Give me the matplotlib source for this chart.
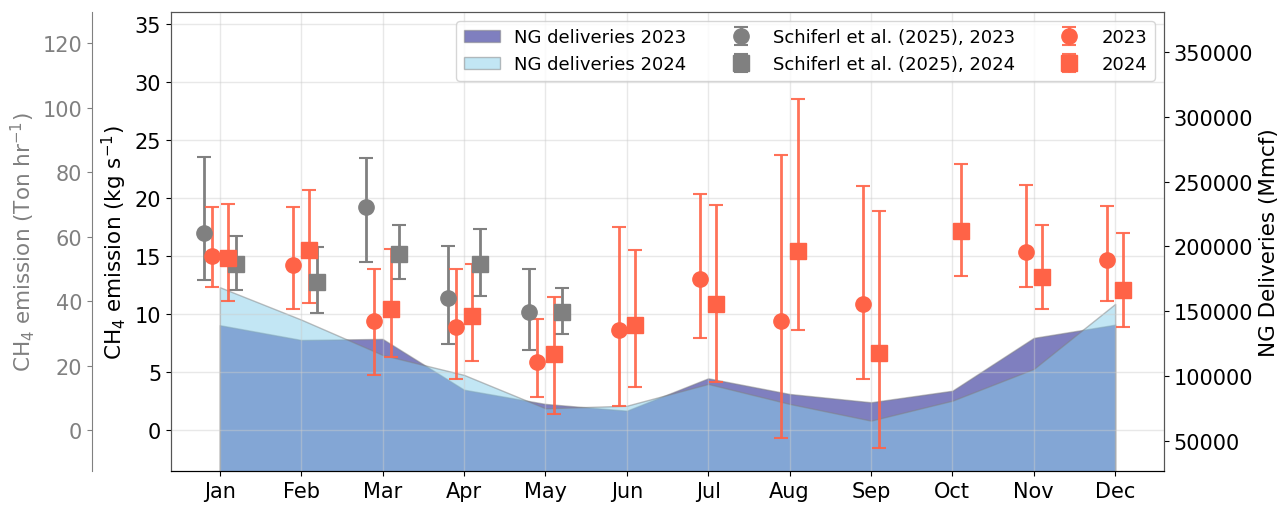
import numpy as np
import matplotlib
matplotlib.use("Agg")
from matplotlib import pyplot as plt

nan = np.nan

months = ['Jan', 'Feb', 'Mar', 'Apr', 'May', 'Jun', 'Jul', 'Aug', 'Sep', 'Oct', 'Nov', 'Dec']

# Schiferl et al. (2025) estimates, kg/s, with lower / upper bounds
sch_2023 = [17.0, nan, 19.2, 11.4, 10.2, nan, nan, nan, nan, nan, nan, nan]
sch_2023_lo = [12.9, nan, 14.5, 7.4, 6.95, nan, nan, nan, nan, nan, nan, nan]
sch_2023_hi = [23.5, nan, 23.4, 15.9, 13.9, nan, nan, nan, nan, nan, nan, nan]
sch_2024 = [14.3, 12.8, 15.2, 14.3, 10.2, nan, nan, nan, nan, nan, nan, nan]
sch_2024_lo = [12.1, 10.1, 13.0, 11.6, 8.3, nan, nan, nan, nan, nan, nan, nan]
sch_2024_hi = [16.7, 15.8, 17.7, 17.3, 12.25, nan, nan, nan, nan, nan, nan, nan]

# our monthly estimates, kg/s
em_2023 = [15.0, 14.2, 9.4, 8.9, 5.9, 8.65, 13.05, 9.4, 10.9, nan, 15.35, 14.7]
em_2023_lo = [12.3, 10.45, 4.8, 4.45, 2.85, 2.1, 7.95, -0.65, 4.4, nan, 12.3, 11.15]
em_2023_hi = [19.2, 19.2, 13.9, 13.9, 9.6, 17.5, 20.35, 23.7, 21.0, nan, 21.1, 19.3]
em_2024 = [14.85, 15.5, 10.4, 9.85, 6.55, 9.1, 10.9, 15.45, 6.65, 17.15, 13.2, 12.1]
em_2024_lo = [11.1, 11.0, 6.35, 6.0, 1.4, 3.75, 4.2, 8.65, -1.5, 13.25, 10.4, 8.9]
em_2024_hi = [19.5, 20.65, 15.6, 14.35, 11.5, 15.5, 19.4, 28.55, 18.9, 22.95, 17.7, 16.95]

# natural gas deliveries, Mmcf
ng_2023 = [139200, 127800, 128600, 89400, 78400, 73200, 98200, 86100, 79700, 88600, 129400, 139600]
ng_2024 = [168500, 143500, 116200, 100800, 75000, 77000, 93800, 78400, 65500, 80900, 105400, 155600]


def yerr(v, lo, hi):
    v, lo, hi = np.array(v), np.array(lo), np.array(hi)
    return [v - lo, hi - v]


x = np.arange(len(months))

fig = plt.figure(figsize=(12.77, 5.06), dpi=100)
ax = fig.add_axes([0.1339, 0.0672, 0.7776, 0.9071])
ax2 = ax.twinx()
ax.set_zorder(ax2.get_zorder() + 1)
ax.patch.set_visible(False)

ax2.fill_between(x, 0, ng_2023, color='navy', alpha=0.5, edgecolor='gray', linewidth=1,
                 label='NG deliveries 2023')
ax2.fill_between(x, 0, ng_2024, color='skyblue', alpha=0.5, edgecolor='gray', linewidth=1,
                 label='NG deliveries 2024')
ax2.set_ylim(26600, 381000)
ax2.set_ylabel('NG Deliveries (Mmcf)', fontsize=15.5)
ax2.tick_params(labelsize=15)

kw = dict(markersize=11, capsize=5, elinewidth=2, capthick=1.5, linestyle='none')
ax.errorbar(x - 0.2, sch_2023, yerr=yerr(sch_2023, sch_2023_lo, sch_2023_hi), fmt='o',
            color='gray', label='Schiferl et al. (2025), 2023', **kw)
ax.errorbar(x + 0.2, sch_2024, yerr=yerr(sch_2024, sch_2024_lo, sch_2024_hi), fmt='s',
            color='gray', label='Schiferl et al. (2025), 2024', **kw)
ax.errorbar(x - 0.1, em_2023, yerr=yerr(em_2023, em_2023_lo, em_2023_hi), fmt='o',
            color='tomato', ecolor=(1, 0.39, 0.28, 0.9), label='2023', **kw)
ax.errorbar(x + 0.1, em_2024, yerr=yerr(em_2024, em_2024_lo, em_2024_hi), fmt='s',
            color='tomato', ecolor=(1, 0.39, 0.28, 0.9), label='2024', **kw)

ax.set_xlim(-0.6, 11.6)
ax.set_ylim(-3.5, 36)
ax.set_xticks(x)
ax.set_xticklabels(months)
ax.set_yticks(np.arange(0, 36, 5))
ax.tick_params(labelsize=15)
ax.set_ylabel('CH$_4$ emission (kg s$^{-1}$)', fontsize=15.5)
ax.grid(True, color='#cccccc', linewidth=1, alpha=0.45)
for s in ['left', 'top', 'right']:
    ax.spines[s].set_color('#555555')
    ax2.spines[s].set_color('#555555')

# same emission in Ton/hr on an outer left axis
sec = ax.secondary_yaxis(-0.0796, functions=(lambda v: v * 3.6, lambda v: v / 3.6))
sec.set_yticks(np.arange(0, 121, 20))
sec.tick_params(labelsize=15, colors='gray')
sec.spines['left'].set_color('gray')
sec.set_ylabel('CH$_4$ emission (Ton hr$^{-1}$)', fontsize=15.5, color='gray')

h1, l1 = ax.get_legend_handles_labels()
h2, l2 = ax2.get_legend_handles_labels()
ax.legend(h2 + h1, l2 + l1, loc='upper right', ncol=3, fontsize=13)

fig.savefig('out.png', dpi=100)
